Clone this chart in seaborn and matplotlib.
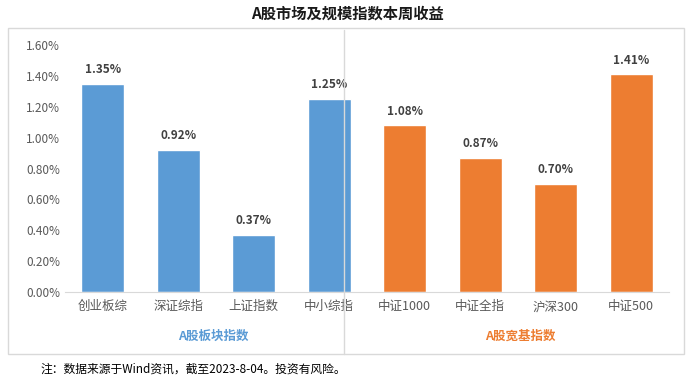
import pandas as pd
import matplotlib.pyplot as plt
import seaborn as sns
from matplotlib.patches import Rectangle
from matplotlib.lines import Line2D

names = ["创业板综", "深证综指", "上证指数", "中小综指", "中证1000", "中证全指", "沪深300", "中证500"]
returns = [1.35, 0.92, 0.37, 1.25, 1.08, 0.87, 0.70, 1.41]
groups = ["A股板块指数"] * 4 + ["A股宽基指数"] * 4

df = pd.DataFrame({"name": names, "ret": returns, "group": groups})
palette = {"A股板块指数": "#5B9BD5", "A股宽基指数": "#ED7D31"}

sns.set_style("white")
plt.rcParams['font.family'] = ['Noto Sans CJK SC', 'DejaVu Sans']

fig = plt.figure(figsize=(6.95, 3.87), dpi=100)
ax = fig.add_axes([65 / 695, 1 - 292 / 387, 604 / 695, 247 / 387])

sns.barplot(data=df, x="name", y="ret", hue="group", palette=palette,
            dodge=False, width=0.57, saturation=1, legend=False, ax=ax)

ax.set_xlim(-0.5, 7.5)
ax.set_ylim(0, 1.6)
ax.set_yticks([i * 0.2 for i in range(9)])
ax.set_yticklabels([f"{i * 0.2:.2f}%" for i in range(9)])
ax.set_xlabel("")
ax.set_ylabel("")
ax.tick_params(axis="both", length=0, colors="#595959", labelsize=8.5)
ax.tick_params(axis="x", pad=6, labelsize=9)
for s in ["top", "right", "left"]:
    ax.spines[s].set_visible(False)
ax.spines["bottom"].set_color("#D9D9D9")

for i, v in enumerate(returns):
    ax.text(i, v + 0.05, f"{v:.2f}%", ha="center", va="bottom",
            fontsize=8.5, fontweight="bold", color="#404040")

# outer frame and divider
fig.patches.append(Rectangle((8 / 695, 1 - 354 / 387), 676 / 695, 326 / 387,
                             transform=fig.transFigure, fill=False,
                             edgecolor="#D9D9D9", linewidth=1))
fig.lines.append(Line2D([344 / 695, 344 / 695], [1 - 354 / 387, 1 - 30 / 387],
                        transform=fig.transFigure, color="#D9D9D9", linewidth=1))

fig.text(347 / 695, 1 - 14 / 387, "A股市场及规模指数本周收益", ha="center", va="center",
         fontsize=11, fontweight="bold", color="#1a1a1a")
fig.text(213 / 695, 1 - 336 / 387, "A股板块指数", ha="center", va="center",
         fontsize=9, fontweight="bold", color="#5B9BD5")
fig.text(520 / 695, 1 - 336 / 387, "A股宽基指数", ha="center", va="center",
         fontsize=9, fontweight="bold", color="#ED7D31")
fig.text(40 / 695, 1 - 369 / 387, "注：数据来源于Wind资讯，截至2023-8-04。投资有风险。",
         ha="left", va="center", fontsize=8.5, color="#000000")

fig.savefig("out.png", dpi=100)
